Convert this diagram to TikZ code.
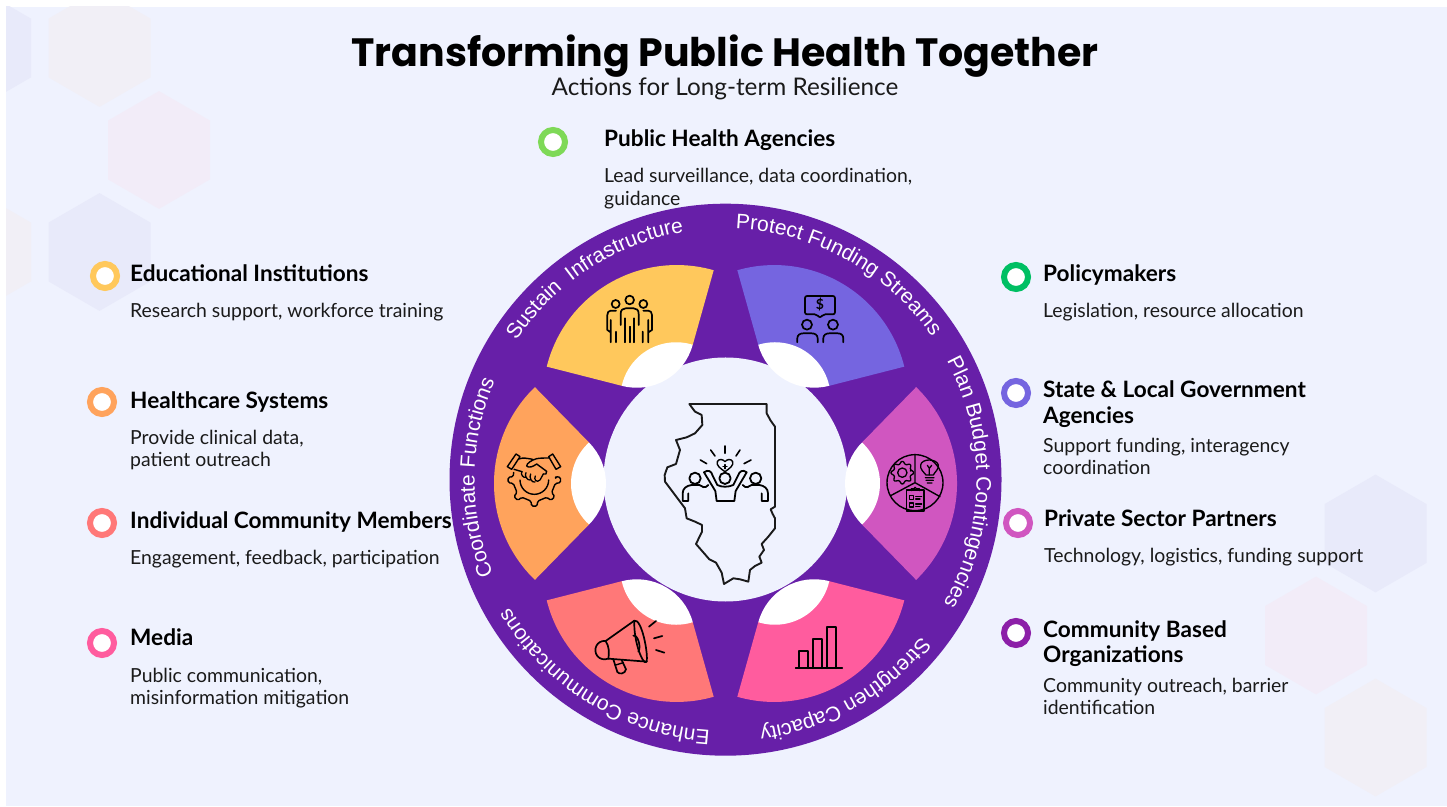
\documentclass[tikz,border=0pt]{standalone}
\usepackage{fontspec}
\usetikzlibrary{decorations.text}
\setmainfont{Lato}
\newfontfamily\ringfam{Liberation Sans}
\newfontfamily\titlefam{Poppins}
\definecolor{bgc}{HTML}{EFF2FE}
\definecolor{ringc}{HTML}{671FA8}
\definecolor{hexa}{HTML}{E8EAFA}
\definecolor{hexb}{HTML}{F1EFF6}
\definecolor{hexc}{HTML}{F2ECF8}
\definecolor{cyellow}{HTML}{FFC85C}
\definecolor{cblue}{HTML}{7565E0}
\definecolor{cplan}{HTML}{D056C0}
\definecolor{corange}{HTML}{FFA35C}
\definecolor{csalmon}{HTML}{FF7878}
\definecolor{cpink}{HTML}{FF5C9E}
\definecolor{cgreenl}{HTML}{7ED957}
\definecolor{cgreen}{HTML}{00BF63}
\definecolor{cpurple}{HTML}{8C1FA8}
\definecolor{ink}{HTML}{1A1A1A}
\def\ringfont{\ringfam\fontsize{21}{25}\selectfont\color{white}}
\newcommand\twolines[3]{\vtop{\baselineskip=#3\lineskiplimit=-20pt\hbox{#1}\hbox{#2}}}
\tikzset{
  x=1pt,y=1pt,
  head/.style={anchor=base west,inner sep=0pt,text=black,font=\bfseries\fontsize{22.6}{25}\selectfont},
  body/.style={anchor=base west,inner sep=0pt,text=ink,font=\fontsize{19.4}{22}\selectfont},
  dotring/.style={circle,draw=#1,line width=6pt,fill=white,minimum size=24pt,inner sep=0pt},
  icon/.style={draw=black,line width=1.7pt,line cap=round,line join=round},
  ringtext/.style={postaction={decorate},decoration={text along path,text align=center,text={|\ringfont|#1}}},
}
\newcommand\hexat[3]{\fill[#3] (#1+51,#2+29.4) -- (#1,#2+58.9) -- (#1-51,#2+29.4) -- (#1-51,#2-29.4) -- (#1,#2-58.9) -- (#1+51,#2-29.4) -- cycle;}
\begin{document}
\begin{tikzpicture}
\useasboundingbox (0,0) rectangle (1447,806);
\fill[white] (0,0) rectangle (1447,806);
\begin{scope}
\clip (6,0) rectangle (1447,799);
\fill[bgc] (6,0) rectangle (1447,799);
\hexat{99.5}{758}{hexb}
\hexat{159}{656}{hexc}
\hexat{99.5}{554}{hexa}
\hexat{-20}{758}{hexa}
\hexat{-20}{554}{hexb}
\hexat{1375.5}{272.5}{hexa}
\hexat{1316}{170.5}{hexc}
\hexat{1375.5}{68.5}{hexb}
\end{scope}

% ring
\fill[ringc] (725.5,326.3) circle[radius=276];
\fill[bgc] (725.5,326.5) circle[radius=122];
\foreach \r/\c in {0/corange,-60/cyellow,-120/cblue,-180/cplan,-240/cpink,-300/csalmon}{
  \begin{scope}[shift={(725.5,322.5)},rotate=\r]
    \fill[\c] (-190.6,96.4) arc[start angle=134,end angle=226,radius=134] -- (-136.5,-41) -- (-136.5,41) -- cycle;
    \fill[white] (-136.5,41) arc[start angle=132.6,end angle=227.4,radius=55.7] arc[start angle=-45,end angle=45,radius=57.9] -- cycle;
  \end{scope}
}
% ring labels
\path[ringtext={Sustain {\ }Infrastructure}] ([shift={(725.5,326.3)}]150:251) arc[start angle=150,end angle=96,radius=251];
\path[ringtext={Protect Funding Streams}] ([shift={(725.5,326.3)}]90:251) arc[start angle=90,end angle=32.4,radius=251];
\path[ringtext={Plan Budget Contingencies}] ([shift={(725.5,326.3)}]31.3:251) arc[start angle=31.3,end angle=-32.7,radius=251];
\path[ringtext={Strengthen Capacity}] ([shift={(725.5,326.3)}]-35:251) arc[start angle=-35,end angle=-86,radius=251];
\path[ringtext={Enhance Communications}] ([shift={(725.5,326.3)}]-90:251) arc[start angle=-90,end angle=-153,radius=251];
\path[ringtext={Coordinate Functions}] ([shift={(725.5,326.3)}]-155.5:251) arc[start angle=-155.5,end angle=-205.5,radius=251];

% Illinois and people
\begin{scope}[shift={(640,416)},x=0.3333pt,y=-0.3333pt]
\draw[icon,line width=1.9pt,draw=ink] (148,42) -- (380,42) -- (380,70) -- (392,92) -- (405,110) -- (405,350) -- (392,358) -- (398,372) -- (405,385) -- (405,415) -- (385,440) -- (365,462) -- (372,480) -- (358,500) -- (365,518) -- (345,528) -- (330,540) -- (325,575) -- (300,568) -- (280,565) -- (252,582) -- (245,548) -- (228,518) -- (208,508) -- (188,485) -- (168,462) -- (186,425) -- (186,405) -- (165,395) -- (140,385) -- (135,355) -- (105,315) -- (75,275) -- (74,255) -- (82,232) -- (108,222) -- (120,180) -- (108,150) -- (140,142) -- (165,130) -- (187,105) -- (185,75) -- (165,65) -- cycle;
\draw[icon,line width=1.8pt] (165,265) circle[radius=17] (255,265) circle[radius=17] (347,265) circle[radius=17];
\draw[icon,line width=1.8pt] (145,333) -- (128,333) -- (128,310) .. controls (128,295) and (140,287) .. (155,285) -- (178,285) (178,285) .. controls (185,290) and (195,297) .. (205,285) (145,333) -- (145,310);
\draw[icon,line width=1.8pt] (365,333) -- (384,333) -- (384,310) .. controls (384,295) and (372,287) .. (358,285) -- (335,285) (335,285) .. controls (328,290) and (318,297) .. (308,285) (365,333) -- (365,310);
\draw[icon,line width=1.8pt] (192,247) .. controls (205,237) and (215,245) .. (217,255) -- (232,285) .. controls (245,292) and (265,292) .. (280,285) -- (295,255) .. controls (298,245) and (308,237) .. (320,247) -- (287,303) -- (283,333) -- (230,333) -- (226,303) -- cycle;
\draw[icon,line width=1.4pt] (255,245) .. controls (240,235) and (228,225) .. (232,215) .. controls (237,205) and (250,208) .. (255,215) .. controls (260,208) and (273,205) .. (278,215) .. controls (282,225) and (270,235) .. (255,245) -- cycle;
\draw[icon,line width=1.4pt] (255,224) -- (255,236) (249,230) -- (261,230);
\draw[icon,line width=1.6pt] (255,168) -- (255,190) (212,180) -- (225,198) (300,180) -- (288,198) (181,210) -- (200,221) (333,210) -- (312,221);
\end{scope}

% people icon and funding icon
\begin{scope}[shift={(590,526)},x=0.3333pt,y=-0.3333pt]
\draw[icon] (77,72) circle[radius=12] (119,60) circle[radius=13] (160,72) circle[radius=12];
\draw[icon] (92,135) -- (92,102) .. controls (92,90) and (98,85) .. (107,85) -- (131,85) .. controls (140,85) and (146,90) .. (146,102) -- (146,135);
\draw[icon] (105,115) -- (105,187) (119,140) -- (119,187) (133,115) -- (133,187);
\draw[icon] (78,92) -- (62,92) .. controls (56,92) and (52,97) .. (52,105) -- (52,150) -- (62,157) (62,120) -- (62,187) (78,155) -- (78,187);
\draw[icon] (160,92) -- (175,92) .. controls (181,92) and (186,97) .. (186,105) -- (186,150) -- (175,157) (175,120) -- (175,187) (158,155) -- (158,187);
% funding
\draw[icon,rounded corners=2pt] (645,48) -- (735,48) -- (735,103) -- (700,103) -- (690,114) -- (680,103) -- (645,103) -- cycle;
\node[inner sep=0pt,text=black,font=\bfseries\fontsize{14}{14}\selectfont] (dollar) at (690,75) {\$};
\draw[icon] (651,134) circle[radius=15] (729,134) circle[radius=15];
\draw[icon] (622,187) -- (622,175) .. controls (622,165) and (630,160) .. (640,160) -- (665,160) .. controls (675,160) and (683,165) .. (683,175) -- (683,187);
\draw[icon] (700,187) -- (700,175) .. controls (700,165) and (708,160) .. (718,160) -- (743,160) .. controls (753,160) and (760,165) .. (760,175) -- (760,187);
\end{scope}

% handshake and gear
\begin{scope}[shift={(490,376)},x=0.3333pt,y=-0.3333pt]
\draw[icon,line width=1.4pt,rounded corners=1.5pt] ([shift={(133,150)}]-8:64)
  \foreach \a in {0,45,90,135,180}{ -- ([shift={(133,150)}]{\a-9}:64) -- ([shift={(133,150)}]{\a-6}:79) -- ([shift={(133,150)}]{\a+6}:79) -- ([shift={(133,150)}]{\a+9}:64) }
  -- ([shift={(133,150)}]200:66);
\draw[icon,line width=1.4pt] (176,150) arc[start angle=0,end angle=180,radius=43];
\draw[icon,line width=1.4pt] (78,72) -- (90,80) -- (65,118) -- (52,110) -- cycle;
\draw[icon,line width=1.4pt] (188,72) -- (176,80) -- (198,118) -- (212,110) -- cycle;
\draw[icon,line width=1.4pt] (86,87) .. controls (100,82) and (110,85) .. (128,88) (178,84) .. controls (165,84) and (150,84) .. (140,86) .. controls (125,90) and (110,100) .. (110,108) .. controls (115,115) and (130,110) .. (140,102) -- (170,124) .. controls (172,132) and (165,135) .. (160,132) (72,118) -- (96,125);
\draw[icon,line width=1.3pt] (96,125) .. controls (90,132) and (100,145) .. (108,142) (108,128) .. controls (102,136) and (112,152) .. (120,150) (122,132) .. controls (116,142) and (126,160) .. (135,156) (136,138) .. controls (130,148) and (140,160) .. (150,150) -- (160,132);
\end{scope}

% plan icon
\begin{scope}[shift={(870,376)},x=0.3333pt,y=-0.3333pt]
\draw[icon,line width=1.4pt] (135,158) circle[radius=84];
\draw[icon,line width=1.4pt] (135,74) -- (135,158) -- (62,197) (135,158) -- (210,200);
\draw[icon,line width=1.3pt,rounded corners=1pt] ([shift={(97,128)}]-12:28)
  \foreach \a in {0,45,90,135,180,225,270,315}{ -- ([shift={(97,128)}]{\a-12}:27) -- ([shift={(97,128)}]{\a-8}:34) -- ([shift={(97,128)}]{\a+8}:34) -- ([shift={(97,128)}]{\a+12}:27) } -- cycle;
\draw[icon,line width=1.3pt] (97,128) circle[radius=14];
\draw[icon,line width=1.3pt] (168,135) .. controls (160,125) and (150,118) .. (152,105) .. controls (155,85) and (200,85) .. (205,105) .. controls (207,118) and (195,125) .. (190,135) -- cycle;
\draw[icon,line width=1.3pt] (166,143) -- (192,143) (168,151) -- (190,151) (172,159) -- (186,159) (172,106) -- (178,115) -- (185,106) (178,115) -- (178,135);
\draw[icon,line width=1.4pt] (110,180) -- (162,180) -- (162,243) -- (110,243) -- cycle;
\draw[icon,line width=1.3pt] (124,182) -- (124,176) -- (132,176) -- (135,172) -- (139,176) -- (148,176) -- (148,182);
\draw[icon,line width=1.2pt] (118,197) rectangle (130,209) (118,219) rectangle (130,231);
\draw[icon,line width=1.2pt] (137,200) -- (155,200) (137,207) -- (150,207) (137,222) -- (155,222) (137,229) -- (150,229);
\end{scope}

% megaphone and bars
\begin{scope}[shift={(580,196)},x=0.3333pt,y=-0.3333pt]
\draw[icon] (163,32) .. controls (185,25) and (205,130) .. (200,155) .. controls (190,170) and (160,95) .. (163,32) -- cycle;
\draw[icon] (163,32) -- (77,93) .. controls (50,90) and (38,120) .. (52,138) .. controls (60,148) and (72,150) .. (85,146) -- (200,155);
\draw[icon] (77,93) .. controls (88,110) and (88,130) .. (85,146);
\draw[icon] (160,77) .. controls (172,72) and (185,110) .. (175,125);
\draw[icon] (100,148) -- (112,186) .. controls (118,194) and (135,192) .. (138,178) -- (125,150);
\draw[icon,line width=1.4pt] (107,165) -- (130,158);
\draw[icon] (207,50) -- (228,33) (222,85) -- (247,78) (228,120) -- (253,128);
% bars
\draw[icon] (647,175) -- (787,175);
\draw[icon] (658,175) -- (658,122) -- (685,122) -- (685,175);
\draw[icon] (700,175) -- (700,86) -- (727,86) -- (727,175);
\draw[icon] (742,175) -- (742,50) -- (768,50) -- (768,175);
\end{scope}

% title
\node[anchor=base,inner sep=0pt,text=black,font=\titlefam\bfseries\fontsize{39.5}{44}\selectfont] (title) at (725,739) {Transforming Public Health Together};
\node[anchor=base,inner sep=0pt,text=ink,font=\fontsize{24.3}{28}\selectfont] (subtitle) at (725,710) {Actions for Long-term Resilience};

% legend markers
\node[dotring=cgreenl] (d1) at (553,664) {};
\node[dotring=cyellow] (d2) at (105,530) {};
\node[dotring=corange] (d3) at (102,404) {};
\node[dotring=csalmon] (d4) at (102,283) {};
\node[dotring=cpink] (d5) at (102,163) {};
\node[dotring=cgreen] (d6) at (1016,529) {};
\node[dotring=cblue] (d7) at (1016,413) {};
\node[dotring=cplan] (d8) at (1018,283) {};
\node[dotring=cpurple] (d9) at (1016,173) {};

% legend text
\node[head] (h1) at (604,659) {Public Health Agencies};
\node[body] (b1) at (604,623) {\twolines{Lead surveillance, data coordination,}{guidance}{23pt}};
\node[head] (h2) at (130,524) {Educational Institutions};
\node[body] (b2) at (130,488) {Research support, workforce training};
\node[head] (h3) at (130,397) {Healthcare Systems};
\node[body] (b3) at (130,361) {\twolines{Provide clinical data,}{patient outreach}{22pt}};
\node[head] (h4) at (130,277) {Individual Community Members};
\node[body] (b4) at (130,241) {Engagement, feedback, participation};
\node[head] (h5) at (130,161) {Media};
\node[body] (b5) at (130,124) {\twolines{Public communication,}{misinformation mitigation}{22pt}};
\node[head] (h6) at (1043,524) {Policymakers};
\node[body] (b6) at (1043,488) {Legislation, resource allocation};
\node[head] (h7) at (1043,408) {\twolines{State \& Local Government}{Agencies}{25.5pt}};
\node[body] (b7) at (1043,353) {\twolines{Support funding, interagency}{coordination}{22pt}};
\node[head] (h8) at (1044,279) {Private Sector Partners};
\node[body] (b8) at (1044,243) {Technology, logistics, funding support};
\node[head] (h9) at (1043,169) {\twolines{Community Based}{Organizations}{25.5pt}};
\node[body] (b9) at (1043,114) {\twolines{Community outreach, barrier}{identification}{22pt}};
\end{tikzpicture}
\end{document}
